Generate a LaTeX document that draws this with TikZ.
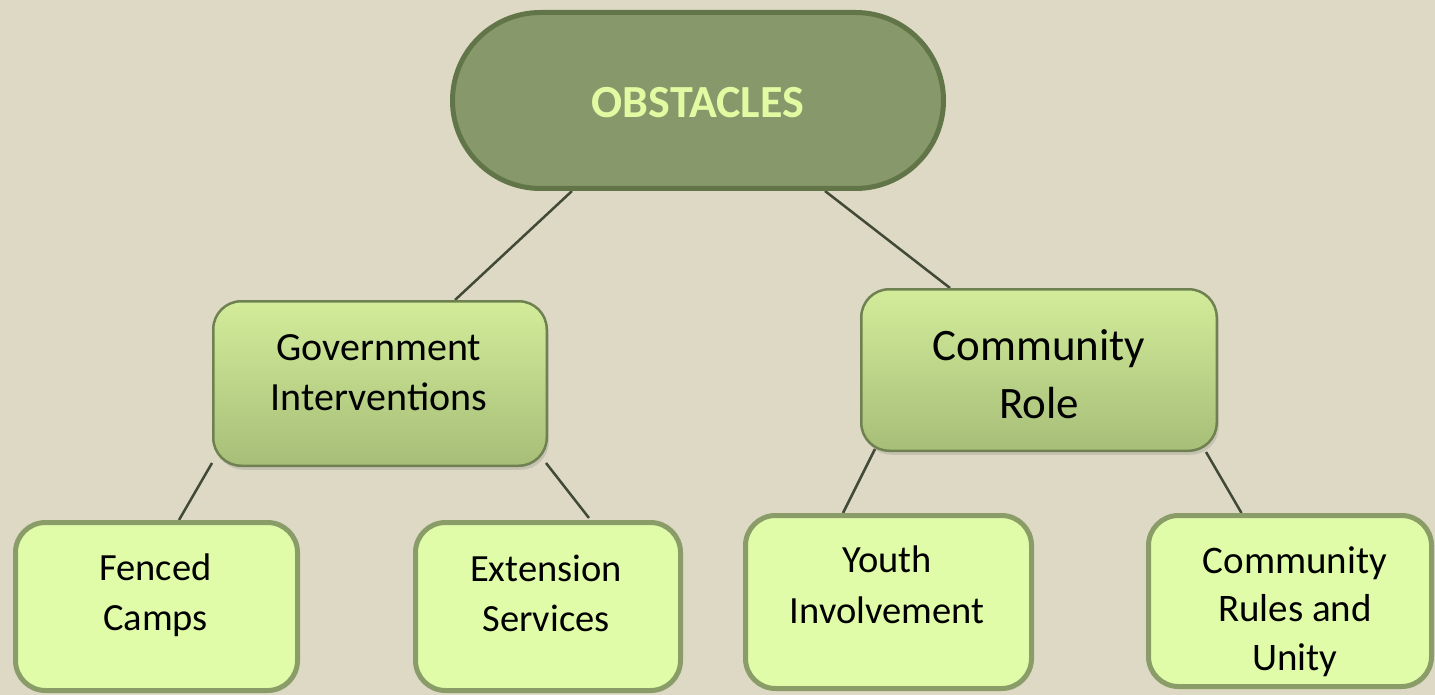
\documentclass[tikz,border=0pt]{standalone}
\usepackage{fontspec}
\setmainfont{Carlito}
\usetikzlibrary{positioning,calc,shadows}
\definecolor{bgcol}{HTML}{DED9C4}
\definecolor{topfill}{HTML}{87996A}
\definecolor{topline}{HTML}{627548}
\definecolor{toptext}{HTML}{E2FBA3}
\definecolor{midtop}{HTML}{D2EC9A}
\definecolor{midbot}{HTML}{A7BE78}
\definecolor{midline}{HTML}{6F8150}
\definecolor{lowfill}{HTML}{E0FCA8}
\definecolor{lowline}{HTML}{8A9D69}
\definecolor{linkcol}{HTML}{414A36}
\pgfdeclarelayer{bg}
\pgfdeclarelayer{links}
\pgfsetlayers{bg,links,main}

\begin{document}
\begin{tikzpicture}[x=1pt,y=-1pt,
    topbox/.style={draw=topline,line width=5pt,fill=topfill,rounded corners=88pt,
      inner sep=0pt,text=toptext,font=\fontsize{46}{50}\selectfont\bfseries},
    midbox/.style={draw=midline,line width=2.5pt,top color=midtop,bottom color=midbot,
      rounded corners=28pt,inner sep=0pt,
      drop shadow={shadow xshift=2pt,shadow yshift=-4pt,opacity=.25}},
    lowbox/.style={draw=lowline,line width=5pt,fill=lowfill,rounded corners=30pt,inner sep=0pt,
      drop shadow={shadow xshift=1.5pt,shadow yshift=-2.5pt,opacity=.15}},
    boxtext/.style={anchor=north,inner sep=0pt,align=center},
    link/.style={draw=linkcol,line width=2.5pt}]
  \clip (0,0) rectangle (1435,695);
  \begin{pgfonlayer}{bg}
    \fill[bgcol] (0,0) rectangle (1435,695);
  \end{pgfonlayer}
  % Tell it where the boxes are
  \node (obst) [topbox,minimum width=491pt,minimum height=176pt] at (698,100.5) {};
  \node (obsttext) [inner sep=0pt,text=toptext,font=\fontsize{46}{50}\selectfont\bfseries] at (698,103) {OBSTACLES};
  \node (gov) [midbox,minimum width=333.5pt,minimum height=164.5pt] at (380,383.5) {};
  \node (comm) [midbox,minimum width=355.5pt,minimum height=161.5pt] at (1039,370) {};
  \node (fenced) [lowbox,minimum width=282pt,minimum height=168pt] at (156.5,606.5) {};
  \node (ext) [lowbox,minimum width=265pt,minimum height=168pt] at (548,606.5) {};
  \node (youth) [lowbox,minimum width=286pt,minimum height=173pt] at (888.5,602) {};
  \node (rules) [lowbox,minimum width=283pt,minimum height=171pt] at (1290,601) {};
  % Tell it what the boxes say
  \node (govtext) [boxtext,font=\fontsize{40}{50}\selectfont] at (379,334) {Government\\Interventions};
  \node (commtext) [boxtext,font=\fontsize{45}{58}\selectfont] at (1039,329) {Community\\Role};
  \node (fencedtext) [boxtext,font=\fontsize{38.5}{50}\selectfont] at (155.5,554) {Fenced\\Camps};
  \node (exttext) [boxtext,font=\fontsize{38.5}{50}\selectfont] at (546,555) {Extension\\Services};
  \node (youthtext) [boxtext,font=\fontsize{38.5}{51}\selectfont] at (887,546) {Youth\\Involvement};
  \node (rulestext) [boxtext,font=\fontsize{39}{48.5}\selectfont] at (1295,546) {Community\\Rules and\\Unity};
  % Tell it what lines to draw
  \begin{pgfonlayer}{links}
    \draw[link] ($(obst.south)+(-126,0)$) -- ($(gov.north)+(75,0)$);
    \draw[link] ($(obst.south)+(127,0)$) -- ($(comm.north)+(-89,0)$);
    \draw[link] ($(gov.south west)+(0,-4)$) -- ($(fenced.north)+(22.5,0)$);
    \draw[link] ($(gov.south east)+(-2,-4)$) -- ($(ext.north)+(41,-2)$);
    \draw[link] ($(comm.south west)+(15,-3)$) -- ($(youth.north)+(-45.5,0)$);
    \draw[link] ($(comm.south east)+(-12,0)$) -- ($(rules.north)+(-48.5,0)$);
  \end{pgfonlayer}
\end{tikzpicture}
\end{document}
